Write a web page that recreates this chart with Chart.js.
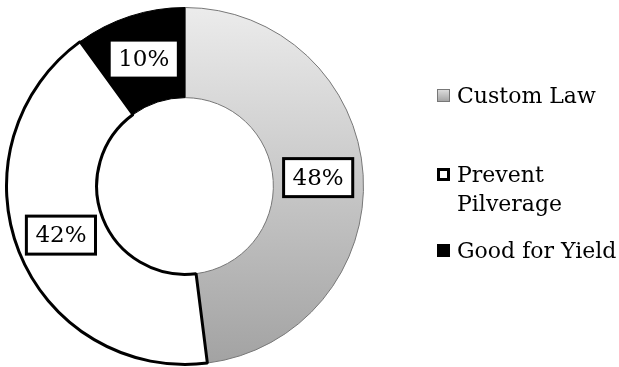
<!DOCTYPE html>
<html>
<head>
<meta charset="utf-8">
<script src="https://cdn.jsdelivr.net/npm/chart.js@4.4.1/dist/chart.umd.min.js"></script>
<style>
  html, body { margin: 0; padding: 0; background: #ffffff; }
  #wrap { width: 619px; height: 367px; position: relative; }
</style>
</head>
<body>
<div id="wrap"><canvas id="c" width="619" height="367"></canvas></div>
<script>
const categories = [['Custom Law'], ['Prevent', 'Pilverage'], ['Good for Yield']];
const values = [48, 42, 10];
const valueLabels = ['48%', '42%', '10%'];

const FONT = '"DejaVu Serif", "Liberation Serif", serif';
const solidColors = [null, '#ffffff', '#000000'];

function fillFor(context) {
  const i = context.dataIndex;
  if (i !== 0) return solidColors[i];
  const chart = context.chart;
  const area = chart.chartArea;
  if (!area) return '#cccccc';
  const g = chart.ctx.createLinearGradient(0, area.top, 0, area.bottom);
  g.addColorStop(0, '#ececec');
  g.addColorStop(1, '#a2a2a2');
  return g;
}

const labelPlugin = {
  id: 'boxLabels',
  afterDatasetsDraw(chart) {
    const ctx = chart.ctx;
    const meta = chart.getDatasetMeta(0);
    ctx.save();
    ctx.font = '23px ' + FONT;
    ctx.textAlign = 'center';
    ctx.textBaseline = 'middle';
    meta.data.forEach((arc, i) => {
      const p = arc.getCenterPoint();
      const txt = valueLabels[i];
      const w = ctx.measureText(txt).width + 18;
      const h = 38;
      ctx.fillStyle = '#ffffff';
      ctx.fillRect(p.x - w / 2, p.y - h / 2, w, h);
      ctx.lineWidth = 3;
      ctx.strokeStyle = '#000000';
      ctx.strokeRect(p.x - w / 2, p.y - h / 2, w, h);
      ctx.fillStyle = '#000000';
      ctx.fillText(txt, p.x, p.y + 1);
    });
    ctx.restore();
  }
};

const legendPlugin = {
  id: 'sideLegend',
  afterDraw(chart) {
    const ctx = chart.ctx;
    ctx.save();
    ctx.font = '22px ' + FONT;
    ctx.textBaseline = 'alphabetic';
    ctx.textAlign = 'left';
    const baselines = [103, 182, 258];
    const lineH = 29;
    const mx = 437, ms = 13, tx = 457;
    categories.forEach((lines, i) => {
      const b = baselines[i];
      const top = b - 14;
      if (i === 0) {
        const g = ctx.createLinearGradient(0, top, 0, top + ms);
        g.addColorStop(0, '#e0e0e0');
        g.addColorStop(1, '#a0a0a0');
        ctx.fillStyle = g;
        ctx.fillRect(mx, top, ms, ms);
        ctx.lineWidth = 1;
        ctx.strokeStyle = '#777777';
        ctx.strokeRect(mx + 0.5, top + 0.5, ms - 1, ms - 1);
      } else if (i === 1) {
        ctx.fillStyle = '#ffffff';
        ctx.fillRect(mx, top, ms, ms);
        ctx.lineWidth = 3;
        ctx.strokeStyle = '#000000';
        ctx.strokeRect(mx + 1.5, top + 1.5, ms - 3, ms - 3);
      } else {
        ctx.fillStyle = '#000000';
        ctx.fillRect(mx, top, ms, ms);
      }
      ctx.fillStyle = '#000000';
      lines.forEach((ln, j) => ctx.fillText(ln, tx, b + j * lineH));
    });
    ctx.restore();
  }
};

new Chart(document.getElementById('c'), {
  type: 'doughnut',
  data: {
    labels: categories,
    datasets: [{
      data: values,
      backgroundColor: fillFor,
      borderColor: ['#777777', '#000000', '#000000'],
      borderWidth: [1, 3, 1],
      hoverOffset: 0,
      offset: 0
    }]
  },
  options: {
    responsive: false,
    animation: false,
    cutout: '49.5%',
    layout: { padding: { left: 5, right: 254, top: 6, bottom: 1 } },
    plugins: { legend: { display: false }, tooltip: { enabled: false } },
    events: []
  },
  plugins: [labelPlugin, legendPlugin]
});
</script>
</body>
</html>
